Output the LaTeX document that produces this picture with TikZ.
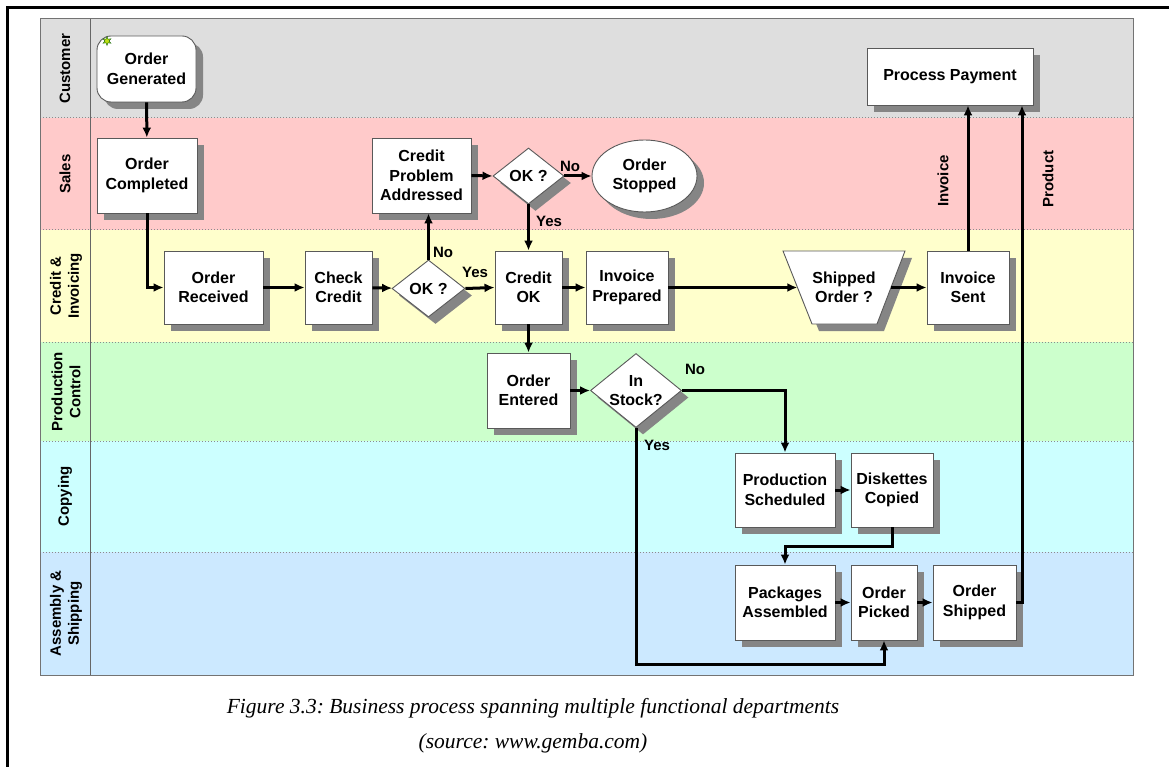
\documentclass[tikz,border=0pt]{standalone}
\usepackage{fontspec}
\setmainfont{Liberation Sans}
\newfontfamily\capfont{Liberation Serif}
\usetikzlibrary{arrows.meta,shapes.geometric,shadows}

\newcommand\bxfont{\fontsize{16}{19.5}\selectfont\bfseries}
\newcommand\lblfont{\fontsize{15}{18}\selectfont\bfseries}

\definecolor{laneCust}{HTML}{DEDEDE}
\definecolor{laneSales}{HTML}{FFCACA}
\definecolor{laneCred}{HTML}{FFFFCC}
\definecolor{laneProd}{HTML}{CCFFCC}
\definecolor{laneCopy}{HTML}{CCFFFF}
\definecolor{laneAsm}{HTML}{CCE9FF}

\begin{document}
\begin{tikzpicture}[x=1pt,y=-1pt,
  shade/.style={drop shadow={shadow xshift=7pt,shadow yshift=-7pt,fill=black!48,opacity=1}},
  outline/.style={draw=black!65,line width=0.9pt,fill=white},
  proc/.style={rectangle,outline,inner sep=0pt,align=center,font=\bxfont,shade},
  decide/.style={diamond,outline,inner sep=0pt,align=center,font=\bxfont,shade},
  flow/.style={line width=3pt,-{Latex[length=10pt,width=9pt]}},
  tag/.style={font=\lblfont,inner sep=1pt},
  lanetitle/.style={rotate=90,align=center,font=\lblfont,inner sep=0pt},
  lanesep/.style={black!45,line width=1pt,dash pattern=on 1.2pt off 1.8pt}
]
\useasboundingbox (0,0) rectangle (1169,767);

% swim lanes
\fill[laneCust]  (40,19)  rectangle (1133,118);
\fill[laneSales] (40,118) rectangle (1133,230);
\fill[laneCred]  (40,230) rectangle (1133,342);
\fill[laneProd]  (40,342) rectangle (1133,441);
\fill[laneCopy]  (40,441) rectangle (1133,552);
\fill[laneAsm]   (40,552) rectangle (1133,675);
\foreach \yy in {118,230,342,441,552}
  \draw[lanesep] (40,\yy) -- (1133,\yy);
\draw[black!55,line width=1pt] (40,19) rectangle (1133,675);
\draw[black!60,line width=1pt] (90,19) -- (90,675);

% lane titles
\node[lanetitle] (tCust)  at (65,68.5) {Customer};
\node[lanetitle] (tSales) at (65,174)  {Sales};
\node[lanetitle] (tCred)  at (66,286)  {Credit \&\\Invoicing};
\node[lanetitle] (tProd)  at (66,391.5){Production\\Control};
\node[lanetitle] (tCopy)  at (65,496.5){Copying};
\node[lanetitle] (tAsm)   at (66,613.5){Assembly \&\\Shipping};

% process steps
\node[proc,rounded corners=14pt,minimum width=99,minimum height=66] (OG) at (146.5,69) {Order\\Generated};
\node[star,star points=6,star point ratio=2.2,fill=yellow!75!green,draw=green!35!black,
      line width=0.4pt,minimum size=9pt,inner sep=0pt] (spark) at (107,41) {};
\node[proc,minimum width=100,minimum height=75] (OC)  at (147,175.5)  {Order\\Completed};
\node[proc,minimum width=99, minimum height=73] (OR)  at (213.5,287.5){Order\\Received};
\node[proc,minimum width=67, minimum height=73] (CC)  at (338.5,287.5){Check\\Credit};
\node[decide,minimum width=73,minimum height=57](D1)  at (428.5,288.5){OK ?};
\node[proc,minimum width=99, minimum height=75] (CP)  at (421.5,175.5){Credit\\Problem\\Addressed};
\node[decide,minimum width=71,minimum height=56](D2)  at (528.5,176)  {OK ?};
\node[ellipse,outline,inner sep=0pt,align=center,font=\bxfont,shade,
      minimum width=105,minimum height=72] (OS) at (644.5,176) {Order\\Stopped};
\node[proc,minimum width=67, minimum height=73] (COK) at (528.5,287.5){Credit\\OK};
\node[proc,minimum width=82, minimum height=73] (IP)  at (627,287.5)  {Invoice\\Prepared};
% decision "Shipped Order ?" as a trapezoid, wide edge on top
\path[outline,shade] (783,251) -- (905,251) -- (877,324) -- (812,324) -- cycle;
\node[rectangle,inner sep=0pt,align=center,font=\bxfont,minimum width=122,minimum height=73]
      (SO) at (844,287.5) {Shipped\\Order ?};
\coordinate (SOin)  at (797.3,287.5);
\coordinate (SOout) at (890.7,287.5);
\node[proc,minimum width=82, minimum height=73] (IS)  at (968,287.5)  {Invoice\\Sent};
\node[proc,minimum width=166,minimum height=57] (PP)  at (950,76.5)   {Process Payment};
\node[proc,minimum width=83, minimum height=75] (OE)  at (528.5,390.5){Order\\Entered};
\node[decide,minimum width=90,minimum height=73,aspect=1.23](ST) at (636,390.5){In\\Stock?};
\node[proc,minimum width=100,minimum height=74] (PS)  at (785,490)    {Production\\Scheduled};
\node[proc,minimum width=82, minimum height=74] (DC)  at (892,490)    {Diskettes\\Copied};
\node[proc,minimum width=100,minimum height=75] (PA)  at (785,602.5)  {Packages\\Assembled};
\node[proc,minimum width=66, minimum height=75] (OPk) at (884,602.5)  {Order\\Picked};
\node[proc,minimum width=83, minimum height=75] (OSh) at (974.5,602.5){Order\\Shipped};

% routing helpers
\coordinate (yesrow) at (0,664);
\coordinate (copyrow) at (0,546);
\coordinate (prodcol) at (1022,0);

% connectors
\draw[flow] (OG) -- (OC);
\draw[flow] (OC.south) |- (OR.west);
\draw[flow] (OR) -- (CC);
\draw[flow] (CC) -- (D1);
\draw[flow] (D1.north) -- (D1.north |- CP.south);
\draw[flow] (D1.east) -- (COK.west);
\draw[flow] (CP.east) -- (D2.west);
\draw[flow] (D2.east) -- (OS.west);
\draw[flow] (D2.south) -- (COK.north);
\draw[flow] (COK) -- (IP);
\draw[flow] (IP.east) -- (SOin);
\draw[flow] (SOout) -- (IS.west);
\draw[flow] (IS.north) -- (IS.north |- PP.south);
\draw[flow] (COK) -- (OE);
\draw[flow] (OE) -- (ST.west);
\draw[flow] (ST.east) -| (PS.north);
\draw[flow] (ST.south) -- (ST.south |- yesrow) -| (OPk.south);
\draw[flow] (PS) -- (DC);
\draw[flow] (DC.south) -- (DC.south |- copyrow) -| (PA.north);
\draw[flow] (PA) -- (OPk);
\draw[flow] (OPk) -- (OSh);
\draw[flow] (OSh.east) -| (prodcol |- PP.south);

% connector labels
\node[tag] (n1) at (443,252) {No};
\node[tag] (y1) at (475,272) {Yes};
\node[tag] (n2) at (570,166) {No};
\node[tag] (y2) at (549,221) {Yes};
\node[tag] (n3) at (695,369) {No};
\node[tag] (y3) at (657,445) {Yes};
\node[tag,rotate=90] (inv)  at (943,181) {Invoice};
\node[tag,rotate=90] (prod) at (1048,179) {Product};

% caption
\node[font=\capfont\itshape\fontsize{21.5}{35}\selectfont\frenchspacing,align=center,inner sep=0pt] (cap) at (533,726)
  {Figure 3.3: Business process spanning multiple functional departments\\(source: www.gemba.com)};

% page frame
\draw[line width=2.7pt] (7.3,767) -- (7.3,7.3) -- (1169,7.3);
\end{tikzpicture}
\end{document}
